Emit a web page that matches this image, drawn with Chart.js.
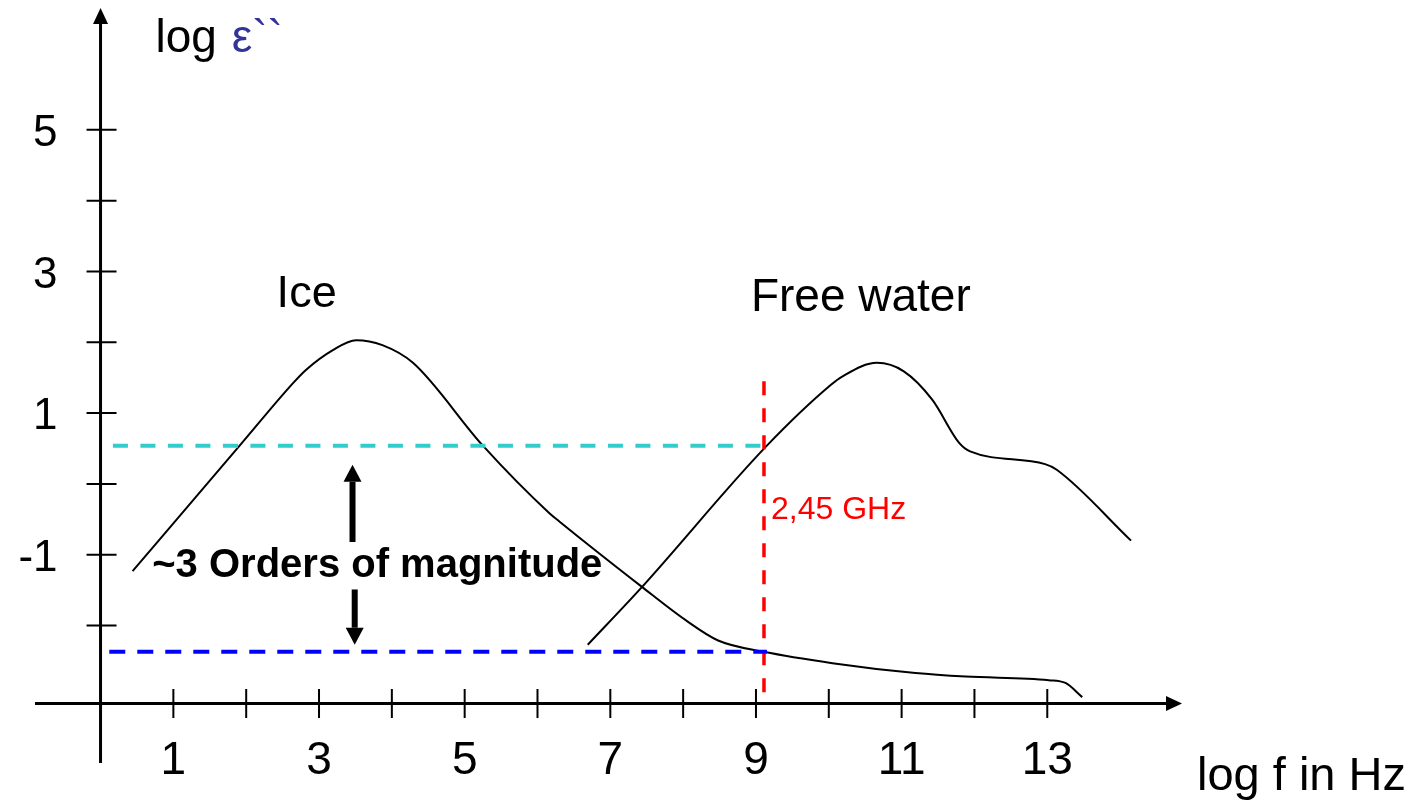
<!DOCTYPE html>
<html>
<head>
<meta charset="utf-8">
<title>Dielectric loss of ice and free water</title>
<script src="https://cdn.jsdelivr.net/npm/chart.js@4.4.1/dist/chart.umd.min.js"></script>
<style>
  html, body { margin: 0; padding: 0; background: #fff; }
  canvas { display: block; }
</style>
</head>
<body>
<canvas id="chart" width="1424" height="806"></canvas>
<script>
// Loss factor curves: log f (Hz) against log eps''
const iceX   = [0.44, 1.91, 2.64, 2.82, 3.19, 3.51, 3.87, 4.29, 5.25, 6.16, 6.30, 7.43, 8.03, 8.48, 9.11, 10.05, 11.19, 11.88, 13.02, 13.25, 13.48];
const iceY   = [-1.23, 0.54, 1.42, 1.61, 1.89, 2.03, 1.96, 1.71, 0.54, -0.41, -0.53, -1.45, -1.92, -2.21, -2.37, -2.53, -2.67, -2.72, -2.77, -2.81, -3.01];
const waterX = [6.69, 7.43, 9.14, 10.03, 10.19, 10.66, 11.03, 11.42, 11.79, 11.94, 12.97, 13.13, 14.15];
const waterY = [-2.27, -1.46, 0.53, 1.40, 1.52, 1.71, 1.59, 1.19, 0.58, 0.46, 0.28, 0.20, -0.80];

const markerX     = 9.11;
const markerY     = [1.45, -3.08];
const waterLevel  = 0.54;
const iceLevel    = -2.37;
const waterLevelX = [0.17, 9.21];
const iceLevelX   = [0.12, 9.15];

// "~3 orders" arrows: [x, from, to]
const upArrow   = [3.46, -0.82, 0.27];
const downArrow = [3.49, -1.49, -2.27];

// Axes
const xTicks  = [1, 2, 3, 4, 5, 6, 7, 8, 9, 10, 11, 12, 13];
const xLabels = [1, 3, 5, 7, 9, 11, 13];
const yTicks  = [-2, -1, 0, 1, 2, 3, 4, 5];
const yLabels = [-1, 1, 3, 5];
const xAxisAt = -3.1;   // y value where the frequency axis sits
const yAxisAt = 0;      // x value where the loss axis sits

const FONT = '"Liberation Sans", Arial, Helvetica, sans-serif';
const pts = (xs, ys) => xs.map((x, i) => ({ x, y: ys[i] }));

function arrow(ctx, x, y, tipY, dir) {
  // vertical filled arrow, dir = -1 points up, +1 points down
  const head = 17, half = 9;
  ctx.lineWidth = 6;
  ctx.beginPath();
  ctx.moveTo(x, y);
  ctx.lineTo(x, tipY - dir * head);
  ctx.stroke();
  ctx.beginPath();
  ctx.moveTo(x, tipY);
  ctx.lineTo(x - half, tipY - dir * head);
  ctx.lineTo(x + half, tipY - dir * head);
  ctx.closePath();
  ctx.fill();
}

const axesPlugin = {
  id: 'axes',
  beforeDatasetsDraw(chart) {
    const { ctx, scales: { x, y } } = chart;
    const ax = x.getPixelForValue(yAxisAt);
    const ay = y.getPixelForValue(xAxisAt);
    ctx.save();
    ctx.strokeStyle = '#000';
    ctx.fillStyle = '#000';

    // axis lines with arrow heads
    ctx.lineWidth = 3;
    ctx.beginPath();
    ctx.moveTo(x.left, ay); ctx.lineTo(x.right - 14, ay);
    ctx.moveTo(ax, y.bottom); ctx.lineTo(ax, y.top + 14);
    ctx.stroke();
    ctx.beginPath();
    ctx.moveTo(x.right, ay); ctx.lineTo(x.right - 16, ay - 7.5); ctx.lineTo(x.right - 16, ay + 7.5);
    ctx.closePath(); ctx.fill();
    ctx.beginPath();
    ctx.moveTo(ax, y.top); ctx.lineTo(ax - 7.5, y.top + 16); ctx.lineTo(ax + 7.5, y.top + 16);
    ctx.closePath(); ctx.fill();

    // crossing tick marks
    ctx.lineWidth = 2;
    ctx.beginPath();
    xTicks.forEach(v => {
      const px = x.getPixelForValue(v);
      ctx.moveTo(px, ay - 14.5); ctx.lineTo(px, ay + 14.5);
    });
    yTicks.forEach(v => {
      const py = y.getPixelForValue(v);
      ctx.moveTo(ax - 14, py); ctx.lineTo(ax + 16, py);
    });
    ctx.stroke();

    // tick labels
    ctx.font = '46px ' + FONT;
    ctx.textAlign = 'center';
    ctx.textBaseline = 'alphabetic';
    xLabels.forEach(v => ctx.fillText(String(v), x.getPixelForValue(v), ay + 70));
    ctx.font = '44px ' + FONT;
    ctx.textAlign = 'right';
    ctx.textBaseline = 'middle';
    yLabels.forEach(v => ctx.fillText(String(v), ax - 43, y.getPixelForValue(v) + 4));

    // axis titles
    ctx.textAlign = 'left';
    ctx.textBaseline = 'alphabetic';
    ctx.font = '47px ' + FONT;
    ctx.fillText('log f in Hz', x.right + 15, y.bottom + 27);
    ctx.font = '46px ' + FONT;
    const tx = ax + 55, ty = y.top + 44;
    ctx.fillText('log ', tx, ty);
    ctx.fillStyle = '#333399';
    ctx.fillText('ε``', tx + ctx.measureText('log ').width + 2, ty);
    ctx.restore();
  },
  afterDatasetsDraw(chart) {
    const { ctx, scales: { x, y } } = chart;
    ctx.save();
    ctx.fillStyle = '#000';
    ctx.strokeStyle = '#000';

    // curve names
    ctx.textAlign = 'center';
    ctx.textBaseline = 'alphabetic';
    ctx.font = '45px ' + FONT;
    ctx.fillText('Ice', x.getPixelForValue(2.83), y.getPixelForValue(2.5));
    ctx.font = '46px ' + FONT;
    ctx.fillText('Free water', x.getPixelForValue(10.44), y.getPixelForValue(2.44));

    // orders of magnitude note with arrows
    ctx.font = 'bold 40px ' + FONT;
    ctx.fillText('~3 Orders of magnitude', x.getPixelForValue(3.8), y.getPixelForValue(-1.31));
    arrow(ctx, x.getPixelForValue(upArrow[0]), y.getPixelForValue(upArrow[1]), y.getPixelForValue(upArrow[2]), -1);
    arrow(ctx, x.getPixelForValue(downArrow[0]), y.getPixelForValue(downArrow[1]), y.getPixelForValue(downArrow[2]), 1);

    // frequency marker label
    ctx.fillStyle = '#ff0000';
    ctx.font = '32px ' + FONT;
    ctx.textAlign = 'left';
    ctx.fillText('2,45 GHz', x.getPixelForValue(markerX) + 7, y.getPixelForValue(-0.49));
    ctx.restore();
  }
};

new Chart(document.getElementById('chart'), {
  type: 'line',
  data: {
    datasets: [
      {
        data: [{ x: waterLevelX[0], y: waterLevel }, { x: waterLevelX[1], y: waterLevel }],
        borderColor: '#33cccc', borderWidth: 4, borderDash: [15, 12.5], tension: 0
      },
      {
        data: [{ x: iceLevelX[0], y: iceLevel }, { x: iceLevelX[1], y: iceLevel }],
        borderColor: '#0000ff', borderWidth: 4, borderDash: [16, 12], tension: 0
      },
      {
        data: [{ x: markerX, y: markerY[0] }, { x: markerX, y: markerY[1] }],
        borderColor: '#ff0000', borderWidth: 3.5, borderDash: [14, 13], tension: 0
      },
      {
        data: pts(iceX, iceY),
        borderColor: '#000', borderWidth: 2, cubicInterpolationMode: 'monotone'
      },
      {
        data: pts(waterX, waterY),
        borderColor: '#000', borderWidth: 2, cubicInterpolationMode: 'monotone'
      }
    ]
  },
  options: {
    responsive: false,
    animation: false,
    events: [],
    layout: { padding: { left: 35, top: 8, right: 242, bottom: 43 } },
    elements: { point: { radius: 0 }, line: { fill: false, borderCapStyle: 'butt' } },
    plugins: { legend: { display: false }, tooltip: { enabled: false } },
    scales: {
      x: { type: 'linear', min: -0.9, max: 14.85, display: false },
      y: { type: 'linear', min: -3.94, max: 6.72, display: false }
    }
  },
  plugins: [axesPlugin]
});
</script>
</body>
</html>
